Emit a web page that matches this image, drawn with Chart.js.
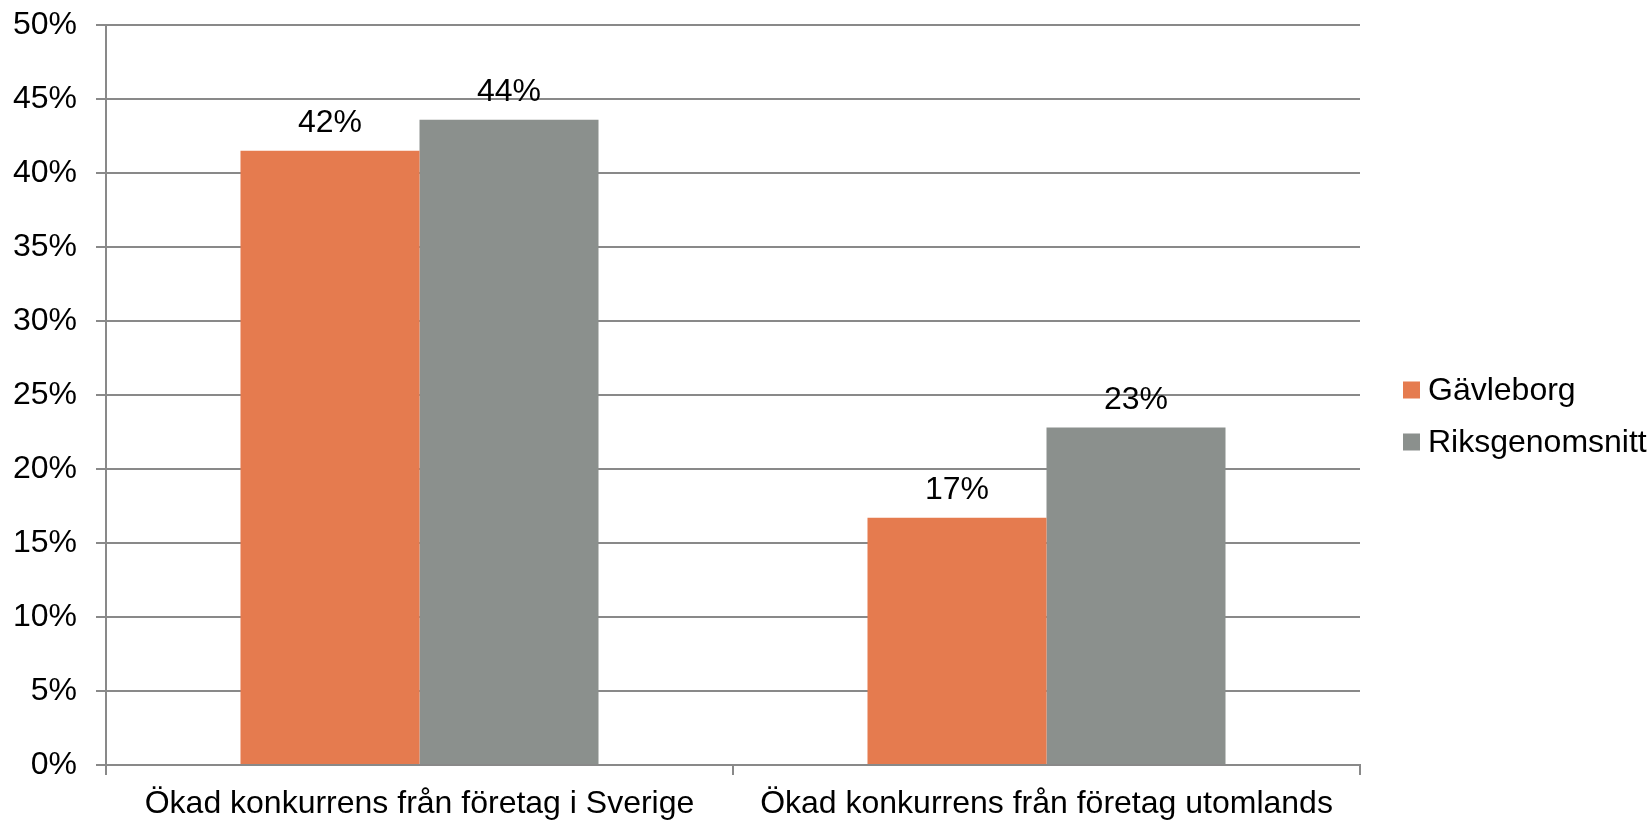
<!DOCTYPE html>
<html>
<head>
<meta charset="utf-8">
<script src="https://cdn.jsdelivr.net/npm/chart.js@4"></script>
<style>
  html, body { margin: 0; padding: 0; background: #fff; }
  #wrap { width: 1651px; height: 821px; position: relative; }
</style>
</head>
<body>
<div id="wrap"><canvas id="chart"></canvas></div>
<script>
// data
const categories = ['Ökad konkurrens från företag i Sverige', 'Ökad konkurrens från företag utomlands'];
const gavleborg = [41.5, 16.7];
const riksgenomsnitt = [43.6, 22.8];
const seriesNames = ['Gävleborg', 'Riksgenomsnitt'];
const yTicks = [0, 5, 10, 15, 20, 25, 30, 35, 40, 45, 50];

const FONT = "'Liberation Sans', Arial, sans-serif";
const FONT_SIZE = 32;
const gridColor = '#898989';

// value labels above each bar
const barLabels = {
    id: 'barLabels',
    afterDatasetsDraw(chart) {
        const ctx = chart.ctx;
        ctx.save();
        ctx.font = FONT_SIZE + 'px ' + FONT;
        ctx.fillStyle = '#000';
        ctx.textAlign = 'center';
        ctx.textBaseline = 'alphabetic';
        chart.data.datasets.forEach((ds, i) => {
            chart.getDatasetMeta(i).data.forEach((bar, j) => {
                ctx.fillText(Math.round(ds.data[j]) + '%', bar.x, bar.y - 19);
            });
        });
        ctx.restore();
    }
};

// legend on the right, drawn by hand so the box/text gap matches
const sideLegend = {
    id: 'sideLegend',
    afterDraw(chart) {
        const ctx = chart.ctx;
        const x = chart.chartArea.right + 43;
        ctx.save();
        ctx.font = FONT_SIZE + 'px ' + FONT;
        ctx.textAlign = 'left';
        ctx.textBaseline = 'middle';
        chart.data.datasets.forEach((ds, i) => {
            const cy = 390 + i * 52;
            ctx.fillStyle = ds.backgroundColor;
            ctx.fillRect(x, cy - 8.5, 17, 17);
            ctx.fillStyle = '#000';
            ctx.fillText(ds.label, x + 25, cy + 1);
        });
        ctx.restore();
    }
};

new Chart(document.getElementById('chart'), {
    type: 'bar',
    data: {
        labels: categories,
        datasets: [
            { label: seriesNames[0], data: gavleborg, backgroundColor: '#e57b4f' },
            { label: seriesNames[1], data: riksgenomsnitt, backgroundColor: '#8b908d' }
        ]
    },
    options: {
        responsive: true,
        maintainAspectRatio: false,
        animation: false,
        layout: { padding: { top: 25, right: 291, bottom: 0, left: 0 } },
        datasets: {
            bar: { categoryPercentage: 0.571, barPercentage: 1.0 }
        },
        plugins: {
            tooltip: { enabled: false },
            legend: { display: false }
        },
        scales: {
            x: {
                afterFit(scale) {
                    scale.height = 56;
                    scale.paddingLeft = 0;
                    scale.paddingRight = 0;
                },
                grid: {
                    display: true,
                    drawOnChartArea: false,
                    offset: true,
                    color: gridColor,
                    lineWidth: 2,
                    tickLength: 10
                },
                border: { color: gridColor, width: 2 },
                ticks: {
                    font: { size: FONT_SIZE, family: FONT },
                    color: '#000',
                    padding: 10,
                    maxRotation: 0,
                    autoSkip: false
                }
            },
            y: {
                min: 0,
                max: 50,
                afterBuildTicks(scale) {
                    scale.ticks = yTicks.map(v => ({ value: v }));
                },
                afterFit(scale) {
                    scale.width = 106;
                    scale.paddingTop = 0;
                    scale.paddingBottom = 0;
                },
                grid: {
                    color: gridColor,
                    lineWidth: 2,
                    tickLength: 10
                },
                border: { color: gridColor, width: 2 },
                ticks: {
                    font: { size: FONT_SIZE, family: FONT },
                    color: '#000',
                    padding: 19,
                    callback: v => v + '%'
                }
            }
        }
    },
    plugins: [barLabels, sideLegend]
});
</script>
</body>
</html>
